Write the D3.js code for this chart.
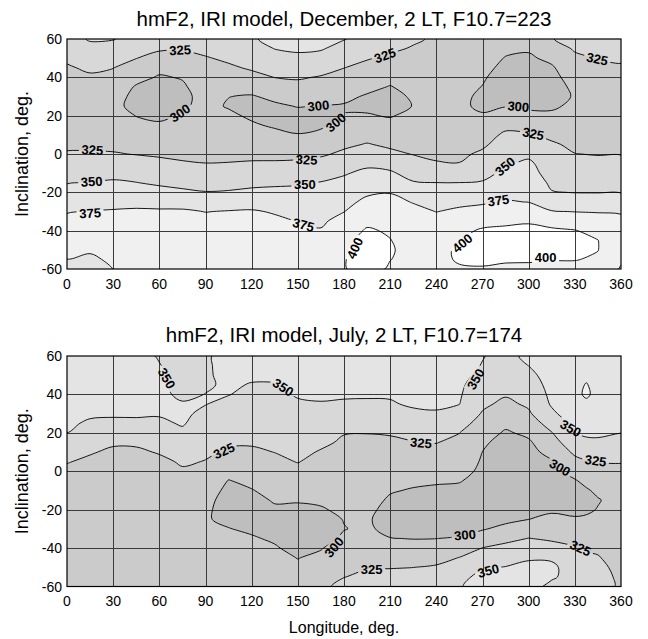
<!DOCTYPE html>
<html><head><meta charset="utf-8">
<script src="https://cdn.jsdelivr.net/npm/d3@7"></script>
<style>
body{margin:0;background:#fff;}
svg{display:block;font-family:"Liberation Sans",Arial,sans-serif;}
</style></head><body>
<svg id="chart" width="648" height="639"></svg>
<script>
// ---------- data ----------
const latitudes = [60,55,50,45,40,35,30,25,20,15,10,5,0,-5,-10,-15,-20,-25,-30,-35,-40,-45,-50,-55,-60];
const decLongitudes = [0,15,30,45,60,75,90,105,120,135,150,165,180,195,210,225,240,255,270,285,300,315,330,345,360];
const julLongitudes = [0,15,30,45,60,75,90,105,120,135,150,165,180,195,210,225,240,255,270,285,300,315,330,337.5,345,360];
const levels = [300,325,350,375,400];
const xTicks = [0,30,60,90,120,150,180,210,240,270,300,330,360];
const yTicks = [60,40,20,0,-20,-40,-60];

// hmF2 (km), one array per longitude, values from lat 60 down to lat -60
const decHmF2 = [
 [341,335,328,323,320,317,314,311,314,317,320,323,326,334,341,349,357,365,374,379,383,384,380,374.8,369],
 [352,344,336,328,322.5,318.6,314.8,311,314,317,320,323,326,334,342,350.2,358,367,375.5,379,382,381,377,372,366],
 [351,342,333.6,325.5,319,313.3,307.5,304.5,308,312,317,321.7,326,336,344.5,352.5,361,369.5,376.5,380,383,383,381,378,375.2],
 [342,334,325.5,315.7,306.5,298,295,295,299.5,305,311.5,318,324.4,331,341.4,350.5,360,370,377.5,381,384,385,384,382,380],
 [337,328,316.7,305.5,298,294,292,292,296,302.6,309,315.8,322.4,330,338.3,346.7,357.3,369.4,377,381,385,387,387,386,385],
 [336,327,318,309.8,301.4,297,295,297.5,302,306.9,311.8,316.7,321.6,326.5,335,344,353.75,366,378,381,385,387,388,388,387],
 [340,331,323.3,319.2,315,310.8,306.7,305,308.4,311.7,315,318.4,321.8,325.2,334,342.4,350.8,362.6,374.5,381,385,387,388,388,387],
 [345,337,329,321.5,314.2,307.6,300.3,298.5,303.5,308,312.4,316.8,321.2,325.6,334.4,343,351.7,364.3,376,381,385,387,388,388,387],
 [348,341,334.5,327.7,318.5,307.6,298.5,294,297,302.4,308.5,314.6,320.7,326.8,336.2,344.8,354.5,365.9,377,381,385,387,388,388,387],
 [355,350.5,341.7,333.3,325.3,314.6,304.2,297,292,297.5,305.1,312.5,319.9,327.2,337,346.3,355.4,364.3,373.2,379,383,386,388,388,387],
 [358,353,345.7,336.5,327.2,318.4,309.6,300.9,294,293,301,310.4,319.5,328.6,338.5,348,355,361.5,368,374.4,380,384,387,388,388],
 [355,351.9,342.3,332.7,323.4,315.3,307.3,299.2,296,297.5,303.7,313,322.2,331.5,341.3,351,355.7,361,366,371.4,376.5,383,388,392,394],
 [351,342.2,333.6,325.3,318,311,304.2,298.5,300.5,307,314.3,321.4,328.6,338.9,348.1,355.3,361.8,368.4,374.5,383,391,396,398,399,398.5],
 [342,334.3,326.5,319.3,312.1,305,298,296,301.5,310.3,318.2,326.1,336,345.6,355,363,371.6,380,388,396,402,405,408,409,410],
 [335,328.6,321.2,313.6,306,299,294,294,298.5,306.2,313.9,321.6,329.3,342.3,353,363.5,374,382,388,393,398,400.5,402,400.5,397],
 [328,323.3,319.2,315,310.8,306.7,302.5,300.5,305.5,310,314.5,319,324.2,332.6,342,351.5,362.6,373.7,382,387,390,392,393,393,392],
 [322,319.6,317.1,314.7,312.3,309.9,307.4,305,308.5,312,315.5,319,322.5,326,339,350.2,358.3,366.7,374.5,383,389,392,394,395,394],
 [318,315.9,313.7,311.6,309.4,307.3,305.1,303,306.7,310.3,314,317.7,321.3,325.5,337.5,350.2,360,370,379,386,394,399.5,403,402,398],
 [315,311.9,308.8,305.6,302.5,299.4,296,297,301.5,308.6,315.1,321.7,328.3,336,344,351.5,362,372.4,382,392,403,408,410,407,397],
 [310,304,299,295,290,288,292,299,309,319,329,334,340.5,347,354,361.5,369,376.5,385,396,404,409,411,403,395],
 [308,302.3,297,292,288,287,290,296,305.4,316.3,327.2,335.7,344.6,354.5,358,363.7,369.3,374.5,386,398,405,410,411,402,396],
 [324,314.4,304.8,297.5,294,292,293,297,303.6,311.7,319.8,327.9,331.6,336.4,341.3,346.1,351,364.3,376,393,403,407,409,401,394],
 [333,327.3,321,315,309,304,301.5,304,308,312,316,320.5,325.4,331.4,337.3,343.2,349.4,362,374.5,387,401,406,407,401,393],
 [338,331.5,325.5,320,316,313,311,310,311,313,316,319.5,324,330.6,336.9,343,349.3,361,373.8,383,393,400.3,400.5,397,390],
 [340,334,328,322.5,319,316,313.5,312,313,315,318,321,324.3,330.2,336.5,342.8,349.1,360.6,373,380,383,384,382,378,373]
];

const julHmF2 = [
 [362,363,363,362,361,359,356.5,353.5,349.9,342,334.1,326.3,319,315,312,310,309,308,308,308,309,310,311,312,313],
 [362,363,363,362,360,357,353,347.3,340.5,333.8,327,320.5,316,313,311,309,308,307,307,307,308,309,310,311,312],
 [361,362,362,361,359,356,353.4,344.6,336.5,328,321,317,314,312,310,308,307,306,306,306,307,308,309,310,311],
 [358,359,360,360,358,355.5,352.5,346.5,338,329,320.5,316,313,311,309,307,306,305,305,305,306,307,308,309,310],
 [348,351,353,354,354,353,351.5,347,340,332,327,319,314,311,309,307,306,305,305,305,305,306,307,308,309],
 [340,340,341,343,346.5,351.5,353,351.5,346.9,340.6,334.4,328.1,322,317,313,310,308,306,305,304,304,305,306,307,308],
 [347,347,347.5,348,350.3,350.5,346.4,342,337.5,333,328.6,324.1,319.6,315,310,306,303.5,302,302,302,302.5,303,304,305,306],
 [358,357,355,352.5,350.6,345.5,341,336.6,332.1,327.7,322,314.4,306.8,299.2,295,292,292,295,300.8,303,304.5,305.5,306,306.5,307],
 [358,356,353,349,345.4,341.7,338,334.3,330.6,326.9,322.1,316.3,310.5,304.7,299,294,291,291,296,302.5,304.5,305.5,306,306.5,307],
 [360,357.5,353.5,349.1,345.9,342.5,339,335.6,332.2,328.8,325.3,320.8,316,311.3,306.6,301.9,297,293,291,296.5,302.5,305,306,307,307.5],
 [362,361,359,356,351.5,347.8,344.1,340.4,336.8,333.1,329.4,325.7,320,313.75,307.5,301.25,297,293,290,289,292,299.5,303,304.5,305.5],
 [362,361,359,356,352.5,349,343.8,338.7,333.5,328.4,323.6,319.4,315.2,311,306.7,302.5,298.5,295,293,294,299,303.5,308,314,320],
 [362,361,359,356,352.5,347.4,340.2,332.9,325.7,322.5,319.8,317,314.3,311.5,308.8,306,303.3,300.5,299.5,302.5,308,313,318.5,324.5,331],
 [362,361,359,356,352.2,347.1,339.7,332.4,325.3,322.4,319.9,317.3,314.8,312.2,309.7,307.1,304.6,302,302.5,305.5,311,317,323.5,329.5,334],
 [361,360,358,355.5,352.3,347.9,340.7,333.6,326.4,321.8,317.7,313.7,309.7,305.6,301.6,297.5,294,293,295.5,300.5,308,315.5,324,331,336],
 [360,359,358,357,355.5,353,345.6,338.2,330.9,324,318.9,313.8,308.7,303.6,298.5,294.5,292,291,294,299.5,306.5,315,324.8,333,338],
 [357,356.5,356,355,354,352.5,348.5,340.9,333.2,325.6,319.7,313.9,308.1,302.3,296.5,292.5,290,290,293.5,299.8,308,317.5,327.5,335,340],
 [354,354,353.5,353,352,350.3,342.3,333.8,325.3,320.3,315.5,310.6,305.8,301,296,292,289,289,293,302,313,325.5,336,344,348],
 [350.5,349.5,347,341,335,329,323.2,316.2,309.5,302.7,299.8,298,296.5,294,291,289,288.5,291,298.3,310.6,325.5,336.4,347.7,356,360],
 [346,341.2,336.5,331.7,326.9,320.3,312.5,304.7,297.5,294,291,289,288,287,287,288,290,295,305.6,319.4,331,340.9,350.8,358,362],
 [353,350.2,344.6,339.2,333.8,328.4,321.9,313.1,304.4,297,293.5,291,289,288,288,290,293.5,299.8,312.5,325.5,336.4,347.7,355,357,356],
 [362,361,359,357,355,352.5,345.7,334.8,324.1,315.5,306.9,298.3,294,291,290,292,297,305,313.3,321.7,333.3,347.2,354,352,346],
 [364,366,369,371,371.5,369,363,356.5,350.2,339.6,329.2,318.8,308.3,298,294,292,294,302.5,310.4,318.5,326.6,334,340,344,345],
 [366,369,372,375.8,377,372,365,360,353.8,345.1,333.9,323.3,314.6,305.9,297.5,294,296.5,303.2,309.6,316,322.4,328.8,334,338,340],
 [366,368,370,370,371,369,364,358.5,354.8,345.2,335.6,325.7,318.6,311.4,304.3,298.5,301,306,311,316.3,321.4,326.5,331,334.5,336],
 [363,364,365,365,364,361,357,353.5,350.2,342,334.1,326.3,319,314,311,309,308.5,309,310,311,313,315,318,320,321]
];

// contour labels (lon, lat, text) with text rotation
const decLabels = [
 {lon:73.5, lat:54.3, text:"325", rot:-3},
 {lon:206.6, lat:51.5, text:"325", rot:-20},
 {lon:344.6, lat:49.6, text:"325", rot:12},
 {lon:73.4, lat:21.4, text:"300", rot:-35},
 {lon:163.3, lat:25.2, text:"300", rot:-6},
 {lon:174.6, lat:16.5, text:"300", rot:-40},
 {lon:293.3, lat:24.8, text:"300", rot:5},
 {lon:16.5, lat:2.2, text:"325", rot:3},
 {lon:155.7, lat:-3, text:"325", rot:3},
 {lon:303, lat:10.6, text:"325", rot:12},
 {lon:16, lat:-14.3, text:"350", rot:-3},
 {lon:154.6, lat:-16, text:"350", rot:0},
 {lon:284.6, lat:-6.5, text:"350", rot:-40},
 {lon:15, lat:-30.8, text:"375", rot:-3},
 {lon:153.6, lat:-36.9, text:"375", rot:15},
 {lon:280.3, lat:-24.2, text:"375", rot:-8},
 {lon:187, lat:-49.1, text:"400", rot:-65},
 {lon:256.9, lat:-46.5, text:"400", rot:-40},
 {lon:311, lat:-53.8, text:"400", rot:0}
];
const julLabels = [
 {lon:64.8, lat:48.4, text:"350", rot:60},
 {lon:140.5, lat:43.7, text:"350", rot:33},
 {lon:265.5, lat:48, text:"350", rot:-60},
 {lon:327.3, lat:22.4, text:"350", rot:30},
 {lon:102, lat:10.7, text:"325", rot:-25},
 {lon:230, lat:14.8, text:"325", rot:5},
 {lon:343.5, lat:5.5, text:"325", rot:8},
 {lon:320.3, lat:2, text:"300", rot:30},
 {lon:258.6, lat:-33.1, text:"300", rot:-5},
 {lon:173.5, lat:-39.5, text:"300", rot:-50},
 {lon:198, lat:-50.8, text:"325", rot:0},
 {lon:333.7, lat:-40, text:"325", rot:25},
 {lon:273.7, lat:-51.7, text:"350", rot:-15}
];

// ---------- drawing ----------
const W = 648, H = 639;
const plotLeft = 67, plotRight = 621;
const bandColors = ["#bebebe","#cbcbcb","#d8d8d8","#e4e4e4","#f0f0f0","#ffffff"];
const color = d3.scaleThreshold().domain(levels).range(bandColors);
const panels = [
  {title:"hmF2, IRI model, December, 2 LT, F10.7=223", titleY:26, top:39, bottom:269, lons:decLongitudes, cols:decHmF2, labels:decLabels},
  {title:"hmF2, IRI model, July, 2 LT, F10.7=174", titleY:342, top:356, bottom:586.5, lons:julLongitudes, cols:julHmF2, labels:julLabels}
];

const svg = d3.select("#chart");
const defs = svg.append("defs");
const x = d3.scaleLinear().domain([0,360]).range([plotLeft, plotRight]);

function fracMap(arr, c) {
  const k = c - 0.5, n = arr.length;
  if (k <= 0) return arr[0] + k * (arr[1] - arr[0]);
  if (k >= n - 1) return arr[n-1] + (k - n + 1) * (arr[n-1] - arr[n-2]);
  const i = Math.floor(k), t = k - i;
  return arr[i] + t * (arr[i+1] - arr[i]);
}
const closedCurve = d3.line().curve(d3.curveCatmullRomClosed.alpha(0.5));

panels.forEach((p, k) => {
  const y = d3.scaleLinear().domain([-60,60]).range([p.bottom, p.top]);
  const clipId = "clip" + k, maskId = "mask" + k;
  defs.append("clipPath").attr("id", clipId).append("rect")
    .attr("x", plotLeft).attr("y", p.top).attr("width", plotRight - plotLeft).attr("height", p.bottom - p.top);

  const nx = p.lons.length, ny = latitudes.length;
  const values = [];
  for (let j = 0; j < ny; j++) for (let i = 0; i < nx; i++) values.push(p.cols[i][j]);
  const contours = d3.contours().size([nx, ny]).thresholds(levels)(values);

  const ringPath = ring => closedCurve(ring.slice(0, -1).map(([cx, cy]) =>
    [x(fracMap(p.lons, cx)), y(fracMap(latitudes, cy))]));
  const mpPath = mp => mp.coordinates.map(poly => poly.map(ringPath).join("")).join("");

  const plot = svg.append("g").attr("clip-path", `url(#${clipId})`);
  plot.append("rect").attr("x", plotLeft).attr("y", p.top)
    .attr("width", plotRight - plotLeft).attr("height", p.bottom - p.top).attr("fill", bandColors[0]);
  plot.selectAll("path.band").data(contours.filter(c => c.coordinates.length)).join("path")
    .attr("class", "band").attr("d", mpPath).attr("fill", d => color(d.value)).attr("fill-rule", "evenodd");

  // grid
  const gx = xTicks.filter(v => v > 0 && v < 360), gy = yTicks.filter(v => v > -60 && v < 60);
  plot.selectAll("line.gx").data(gx).join("line").attr("class","gx")
    .attr("x1", d => Math.round(x(d)) + 0.5).attr("x2", d => Math.round(x(d)) + 0.5)
    .attr("y1", p.top).attr("y2", p.bottom).attr("stroke", "#3a3a3a").attr("stroke-width", 1);
  plot.selectAll("line.gy").data(gy).join("line").attr("class","gy")
    .attr("y1", d => Math.round(y(d)) + 0.5).attr("y2", d => Math.round(y(d)) + 0.5)
    .attr("x1", plotLeft).attr("x2", plotRight).attr("stroke", "#3a3a3a").attr("stroke-width", 1);

  // mask for label gaps
  const mask = defs.append("mask").attr("id", maskId).attr("maskUnits", "userSpaceOnUse")
    .attr("x", 0).attr("y", 0).attr("width", W).attr("height", H);
  mask.append("rect").attr("x", 0).attr("y", 0).attr("width", W).attr("height", H).attr("fill", "#fff");
  p.labels.forEach(l => mask.append("rect").attr("x", -13.5).attr("y", -6).attr("width", 27).attr("height", 12)
    .attr("fill", "#000").attr("transform", `translate(${x(l.lon)},${y(l.lat)}) rotate(${l.rot})`));

  plot.append("g").attr("mask", `url(#${maskId})`).selectAll("path.iso")
    .data(contours.filter(c => c.coordinates.length)).join("path")
    .attr("class", "iso").attr("d", mpPath).attr("fill", "none").attr("stroke", "#000").attr("stroke-width", 0.9);

  plot.selectAll("text.lab").data(p.labels).join("text").attr("class", "lab")
    .attr("transform", d => `translate(${x(d.lon)},${y(d.lat)}) rotate(${d.rot})`)
    .attr("text-anchor", "middle").attr("dy", "0.36em")
    .attr("font-size", 13).attr("font-weight", "bold").attr("fill", "#000").text(d => d.text);

  // frame
  svg.append("rect").attr("x", plotLeft).attr("y", p.top).attr("width", plotRight - plotLeft)
    .attr("height", p.bottom - p.top).attr("fill", "none").attr("stroke", "#000").attr("stroke-width", 1.2);

  // tick labels
  svg.append("g").selectAll("text").data(yTicks).join("text")
    .attr("x", 62).attr("y", d => y(d)).attr("dy", "0.36em").attr("text-anchor", "end")
    .attr("font-size", 14).attr("fill", "#000").text(d => d);
  svg.append("g").selectAll("text").data(xTicks).join("text")
    .attr("x", d => x(d)).attr("y", p.bottom + 19.5).attr("text-anchor", "middle")
    .attr("font-size", 14).attr("fill", "#000").text(d => d);

  // titles
  svg.append("text").attr("x", (plotLeft + plotRight) / 2).attr("y", p.titleY).attr("text-anchor", "middle")
    .attr("font-size", 20.5).attr("fill", "#000").text(p.title);
  svg.append("text").attr("transform", `translate(28,${(p.top + p.bottom) / 2}) rotate(-90)`)
    .attr("text-anchor", "middle").attr("font-size", 18).attr("fill", "#000").text("Inclination, deg.");
});

svg.append("text").attr("x", (plotLeft + plotRight) / 2).attr("y", 633).attr("text-anchor", "middle")
  .attr("font-size", 16).attr("fill", "#000").text("Longitude, deg.");
</script>
</body></html>
